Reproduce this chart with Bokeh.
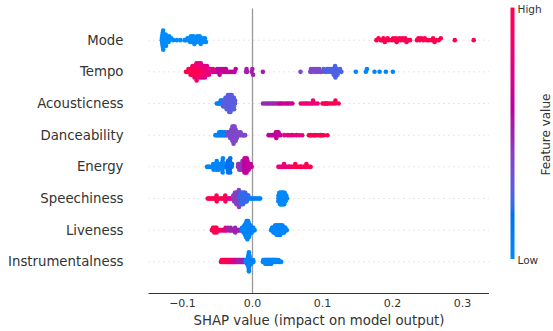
import math
import numpy as np
from bokeh.plotting import figure
from bokeh.layouts import row
from bokeh.models import Range1d, FixedTicker, ColumnDataSource, Label
from bokeh.embed import file_html
from bokeh.resources import INLINE

FONT = "DejaVu Sans"

# ---------------- data ----------------
# rows from bottom to top
features = ["Instrumentalness", "Liveness", "Speechiness", "Energy",
            "Danceability", "Acousticness", "Tempo", "Mode"]

x_ticks = [-0.1, 0.0, 0.1, 0.2, 0.3]
x_tick_labels = ["\u22120.1", "0.0", "0.1", "0.2", "0.3"]

# each entry: (normalised feature value -> colour, list of SHAP values)
mode_groups = [
    (0.0, [-0.1295, -0.1293, -0.1291, -0.1289, -0.1287, -0.1285, -0.1283, -0.1281, -0.1279, -0.1277, -0.1275,
           -0.1270, -0.1265, -0.1260, -0.1255, -0.1250, -0.1240, -0.1235,
           -0.1225, -0.1210, -0.1200, -0.1190,
           -0.1180, -0.1160, -0.1130, -0.1080, -0.1030,
           -0.0970, -0.0950, -0.0930, -0.0915, -0.0900, -0.0890, -0.0880, -0.0870, -0.0860, -0.0855,
           -0.0845, -0.0830, -0.0820, -0.0810, -0.0800, -0.0790, -0.0780, -0.0770, -0.0765,
           -0.0755, -0.0740, -0.0730, -0.0710, -0.0700, -0.0690, -0.0680, -0.0665]),
    (1.0, [0.177, 0.180, 0.183, 0.185, 0.187, 0.189, 0.191, 0.193, 0.195,
           0.199, 0.201, 0.203, 0.205, 0.206, 0.208, 0.210, 0.212, 0.214, 0.216, 0.218, 0.220, 0.222, 0.225,
           0.235, 0.237, 0.239, 0.241, 0.244, 0.246, 0.249, 0.252, 0.256, 0.258, 0.260, 0.263, 0.266, 0.269,
           0.289, 0.316]),
]

tempo_groups = [
    (1.0, [-0.0950, -0.0925, -0.0915, -0.0895, -0.0890, -0.0885, -0.0866, -0.0863, -0.0860, -0.0836, -0.0834,
           -0.0832, -0.0806, -0.0804, -0.0803, -0.0802, -0.0777, -0.0775, -0.0774, -0.0747, -0.0745, -0.0717,
           -0.0687]),
    (0.88, [-0.0857, -0.0830, -0.0828, -0.0801, -0.0800, -0.0798, -0.0773, -0.0771, -0.0744, -0.0742, -0.0715,
            -0.0713, -0.0685, -0.0684, -0.0657, -0.0655, -0.0627]),
    (0.76, [-0.0770, -0.0740, -0.0739, -0.0712, -0.0710, -0.0682, -0.0680, -0.0653, -0.0651, -0.0625, -0.0622,
            -0.0597, -0.0594, -0.0567, -0.0564, -0.0537]),
    (0.63, [-0.0515, -0.0505, -0.0490, -0.0475, -0.0470, -0.0450, -0.0435, -0.0420, -0.0405, -0.0395, -0.0380,
            -0.0365, -0.0340, -0.0310, -0.0280, -0.0255, -0.0240]),
    (0.52, [-0.0092, -0.0085, -0.0078, -0.0012, -0.0002, 0.0008, 0.0148]),
    (0.38, [0.0686, 0.0825, 0.0835, 0.0850, 0.0865, 0.0880, 0.0895, 0.0910, 0.0925, 0.0940, 0.0955, 0.0970,
            0.0995]),
    (0.25, [0.1015, 0.1035, 0.1050, 0.1065, 0.1080, 0.1095, 0.1110, 0.1120, 0.1135, 0.1145, 0.1160, 0.1165,
            0.1170, 0.1175, 0.1180, 0.1185, 0.1196, 0.1205, 0.1215, 0.1230, 0.1250, 0.1270]),
    (0.04, [0.1476, 0.1620, 0.1635, 0.1743, 0.1815, 0.1905, 0.2005]),
]

acoustic_groups = [
    (0.06, [-0.0510, -0.0492, -0.0475, -0.0460, -0.0455, -0.0442, -0.0438, -0.0425, -0.0372, -0.0336, -0.0300]),
    (0.28, [-0.0423, -0.0420, -0.0408, -0.0406, -0.0404, -0.0390, -0.0389, -0.0388, -0.0386,
            -0.0373, -0.0371, -0.0370, -0.0369, -0.0355, -0.0354, -0.0353, -0.0352, -0.0351, -0.0350,
            -0.0338, -0.0337, -0.0335, -0.0334, -0.0333, -0.0332, -0.0321, -0.0320, -0.0319, -0.0318,
            -0.0317, -0.0316, -0.0315, -0.0303, -0.0302, -0.0301, -0.0299, -0.0298, -0.0286, -0.0285,
            -0.0284, -0.0283, -0.0282, -0.0268, -0.0267, -0.0266, -0.0265, -0.0264, -0.0250, -0.0248]),
    (0.48, [0.0150, 0.0180, 0.0210, 0.0235, 0.0260, 0.0290, 0.0310, 0.0340]),
    (0.66, [0.0370, 0.0395, 0.0420, 0.0450, 0.0485, 0.0510, 0.0540, 0.0570]),
    (0.84, [0.0690, 0.0720, 0.0750, 0.0775, 0.0800, 0.0835, 0.0860, 0.0865, 0.0895, 0.0930]),
    (1.0, [0.1000, 0.1025, 0.1045, 0.1060, 0.1065, 0.1090, 0.1120, 0.1150, 0.1180, 0.1185, 0.1230]),
]

dance_groups = [
    (0.06, [-0.0530, -0.0510, -0.0495, -0.0485, -0.0475, -0.0465, -0.0462, -0.0450, -0.0445, -0.0435, -0.0432,
            -0.0420, -0.0410, -0.0405, -0.0390, -0.0385, -0.0370]),
    (0.38, [-0.0360, -0.0355, -0.0340, -0.0338, -0.0325, -0.0322, -0.0320,
            -0.0308, -0.0306, -0.0304, -0.0302,
            -0.0292, -0.0291, -0.0290, -0.0289, -0.0288, -0.0287,
            -0.0276, -0.0275, -0.0274, -0.0273, -0.0272, -0.0271, -0.0270,
            -0.0260, -0.0259, -0.0258, -0.0257, -0.0256, -0.0255,
            -0.0244, -0.0243, -0.0242, -0.0241, -0.0240,
            -0.0228, -0.0226, -0.0224,
            -0.0210, -0.0205, -0.0195, -0.0180, -0.0170, -0.0155, -0.0140, -0.0125, -0.0115, -0.0105]),
    (0.62, [0.0230, 0.0250, 0.0270, 0.0290, 0.0310, 0.0320, 0.0330, 0.0335, 0.0340, 0.0350, 0.0355, 0.0360,
            0.0370, 0.0380, 0.0400]),
    (0.8, [0.0455, 0.0505, 0.0535, 0.0560, 0.0590, 0.0630, 0.0670, 0.0710]),
    (1.0, [0.0805, 0.0820, 0.0835, 0.0850, 0.0870, 0.0885, 0.0900, 0.0930, 0.0955, 0.0970, 0.0985, 0.1000,
           0.1020, 0.1070]),
]

energy_groups = [
    (0.05, [-0.0650, -0.0635, -0.0620, -0.0605, -0.0585,
            -0.0566, -0.0561, -0.0556,
            -0.0523, -0.0520, -0.0515, -0.0511,
            -0.0492, -0.0487, -0.0482,
            -0.0460, -0.0455,
            -0.0434, -0.0432, -0.0430, -0.0428, -0.0426, -0.0423,
            -0.0402, -0.0396, -0.0378, -0.0375]),
    (0.18, [-0.0360, -0.0357, -0.0354, -0.0351, -0.0348,
            -0.0331, -0.0328, -0.0325, -0.0322, -0.0319, -0.0318,
            -0.0298, -0.0292]),
    (0.45, [-0.0208, -0.0204, -0.0194, -0.0191, -0.0188, -0.0178, -0.0175, -0.0164, -0.0161, -0.0158,
            -0.0150, -0.0148, -0.0146, -0.0144, -0.0135, -0.0132, -0.0129]),
    (0.62, [-0.0122, -0.0120, -0.0118, -0.0116, -0.0114, -0.0112,
            -0.0107, -0.0104, -0.0102, -0.0100, -0.0098,
            -0.0093, -0.0091, -0.0089, -0.0087, -0.0085, -0.0083,
            -0.0078, -0.0075, -0.0072, -0.0070, -0.0063, -0.0059, -0.0055,
            -0.0047, -0.0041, -0.0031, -0.0026, -0.0012]),
    (0.82, [0.0370, 0.0390, 0.0410, 0.0430, 0.0445, 0.0450, 0.0470, 0.0490, 0.0510, 0.0525, 0.0530, 0.0550]),
    (1.0, [0.0570, 0.0590, 0.0605, 0.0610, 0.0630, 0.0650, 0.0670, 0.0685, 0.0690, 0.0710, 0.0730, 0.0750,
           0.0765, 0.0770, 0.0790, 0.0810, 0.0830]),
]

speech_groups = [
    (1.0, [-0.0640, -0.0625, -0.0610, -0.0590, -0.0575, -0.0560, -0.0545, -0.0525, -0.0517, -0.0514, -0.0511,
           -0.0490, -0.0470, -0.0450, -0.0435, -0.0415, -0.0394, -0.0390, -0.0387]),
    (0.75, [-0.0365, -0.0345, -0.0330, -0.0315, -0.0300]),
    (0.42, [-0.0279, -0.0275, -0.0268, -0.0266, -0.0263, -0.0257, -0.0255, -0.0253, -0.0251,
            -0.0245, -0.0243, -0.0242, -0.0240, -0.0235, -0.0233, -0.0231, -0.0230, -0.0228,
            -0.0223, -0.0221, -0.0219, -0.0217, -0.0212, -0.0210, -0.0209, -0.0207, -0.0205,
            -0.0201, -0.0200, -0.0199, -0.0198, -0.0197, -0.0195, -0.0193,
            -0.0189, -0.0187, -0.0186, -0.0184, -0.0182]),
    (0.22, [-0.0177, -0.0176, -0.0174, -0.0172, -0.0166, -0.0165, -0.0163, -0.0161, -0.0159,
            -0.0154, -0.0152, -0.0150, -0.0148, -0.0143, -0.0142, -0.0140, -0.0138, -0.0136,
            -0.0132, -0.0130, -0.0128, -0.0126, -0.0120, -0.0118, -0.0116, -0.0114,
            -0.0109, -0.0107, -0.0105, -0.0103, -0.0098, -0.0095, -0.0092, -0.0086, -0.0083, -0.0081,
            -0.0075, -0.0071, -0.0063, -0.0059]),
    (0.07, [-0.0045, -0.0025, -0.0010, 0.0010, 0.0030, 0.0050, 0.0075, 0.0095, 0.0110]),
    (0.02, [0.0370, 0.0371, 0.0369, 0.0381, 0.0382, 0.0380, 0.0383, 0.0393, 0.0392, 0.0394, 0.0391, 0.0395,
            0.0404, 0.0403, 0.0405, 0.0406, 0.0402, 0.0415, 0.0416, 0.0414, 0.0417, 0.0413,
            0.0427, 0.0426, 0.0428, 0.0425, 0.0429, 0.0438, 0.0437, 0.0439, 0.0436, 0.0440,
            0.0450, 0.0449, 0.0451, 0.0448, 0.0452, 0.0461, 0.0460, 0.0462, 0.0459,
            0.0472, 0.0473, 0.0471, 0.0484, 0.0483, 0.0495]),
]

live_groups = [
    (1.0, [-0.0580, -0.0572, -0.0565, -0.0558, -0.0551, -0.0548, -0.0545, -0.0538, -0.0530, -0.0522, -0.0518,
           -0.0515, -0.0512, -0.0505, -0.0495, -0.0485, -0.0475, -0.0460, -0.0448]),
    (0.78, [-0.0430, -0.0420, -0.0410, -0.0395, -0.0388, -0.0385, -0.0382, -0.0370, -0.0360]),
    (0.5, [-0.0350, -0.0340, -0.0330, -0.0318, -0.0315, -0.0312, -0.0300, -0.0290, -0.0280, -0.0270, -0.0260,
           -0.0252, -0.0249, -0.0246, -0.0235, -0.0225, -0.0215, -0.0205, -0.0195, -0.0185, -0.0175, -0.0165]),
    (0.04, [-0.0154, -0.0150, -0.0143, -0.0139, -0.0133, -0.0131, -0.0128,
            -0.0123, -0.0121, -0.0119, -0.0117, -0.0113, -0.0111, -0.0109, -0.0107, -0.0105,
            -0.0102, -0.0101, -0.0099, -0.0098, -0.0097, -0.0096, -0.0094,
            -0.0092, -0.0091, -0.0089, -0.0088, -0.0087, -0.0086, -0.0085, -0.0084,
            -0.0081, -0.0080, -0.0079, -0.0078, -0.0077, -0.0076, -0.0075, -0.0074, -0.0073,
            -0.0070, -0.0069, -0.0068, -0.0067, -0.0066, -0.0065, -0.0064, -0.0062,
            -0.0059, -0.0058, -0.0057, -0.0055, -0.0054, -0.0053, -0.0051,
            -0.0048, -0.0047, -0.0045, -0.0043, -0.0041, -0.0037, -0.0035, -0.0033, -0.0031,
            -0.0026, -0.0024, -0.0021, -0.0015, -0.0012, -0.0010, -0.0004, 0.0000, 0.0007, 0.0010,
            0.0019, 0.0030]),
    (0.03, [0.0266, 0.0274, 0.0278, 0.0285, 0.0288, 0.0295, 0.0297, 0.0300, 0.0305, 0.0308, 0.0311,
            0.0316, 0.0318, 0.0320, 0.0322, 0.0327, 0.0329, 0.0331, 0.0333,
            0.0336, 0.0338, 0.0340, 0.0342, 0.0344, 0.0347, 0.0349, 0.0351, 0.0353, 0.0355,
            0.0358, 0.0360, 0.0362, 0.0364, 0.0365, 0.0369, 0.0371, 0.0372, 0.0374, 0.0376,
            0.0380, 0.0382, 0.0383, 0.0385, 0.0386, 0.0390, 0.0392, 0.0394, 0.0396, 0.0398,
            0.0401, 0.0403, 0.0406, 0.0408, 0.0412, 0.0414, 0.0416, 0.0418,
            0.0423, 0.0425, 0.0427, 0.0429, 0.0434, 0.0437, 0.0439, 0.0445, 0.0447, 0.0450,
            0.0455, 0.0459, 0.0466, 0.0470, 0.0478, 0.0490]),
]

instr_groups = [
    (1.0, [-0.0450, -0.0445, -0.0440, -0.0435, -0.0430, -0.0425, -0.0420, -0.0415, -0.0410, -0.0405, -0.0400,
           -0.0395, -0.0390, -0.0385, -0.0380, -0.0375, -0.0370, -0.0365, -0.0360, -0.0355, -0.0350, -0.0345,
           -0.0340, -0.0335, -0.0330, -0.0325, -0.0320]),
    (0.75, [-0.0315, -0.0310, -0.0305, -0.0300, -0.0295, -0.0290, -0.0285, -0.0280, -0.0275, -0.0270, -0.0265,
            -0.0260, -0.0255, -0.0250, -0.0245, -0.0240, -0.0235, -0.0230, -0.0225, -0.0220, -0.0215, -0.0210]),
    (0.5, [-0.0205, -0.0200, -0.0195, -0.0190, -0.0185, -0.0180, -0.0175, -0.0170, -0.0165, -0.0160, -0.0155,
           -0.0150, -0.0145, -0.0140, -0.0135, -0.0130, -0.0125, -0.0120, -0.0115, -0.0110, -0.0105]),
    (0.04, [-0.0099, -0.0096, -0.0090, -0.0087, -0.0083, -0.0081, -0.0078, -0.0074, -0.0072, -0.0069,
            -0.0066, -0.0065, -0.0063, -0.0062, -0.0061, -0.0060,
            -0.0058, -0.0057, -0.0056, -0.0055, -0.0055, -0.0054, -0.0054, -0.0053, -0.0052, -0.0051, -0.0051,
            -0.0049, -0.0048, -0.0047, -0.0045, -0.0044, -0.0043, -0.0039, -0.0037, -0.0035,
            -0.0030, -0.0028, -0.0026, -0.0022, -0.0020, -0.0018, -0.0013, -0.0010, -0.0004, -0.0001,
            0.0004, 0.0008, 0.0014]),
    (0.03, [0.0148, 0.0154, 0.0159, 0.0163, 0.0168, 0.0171, 0.0175, 0.0178, 0.0182, 0.0186, 0.0189, 0.0193,
            0.0196, 0.0199, 0.0203, 0.0206, 0.0209, 0.0212, 0.0215, 0.0219, 0.0222, 0.0225, 0.0229, 0.0232,
            0.0235, 0.0238, 0.0242, 0.0245, 0.0248, 0.0252, 0.0255, 0.0258, 0.0262, 0.0265, 0.0268, 0.0272,
            0.0276, 0.0279, 0.0283, 0.0287, 0.0291, 0.0295, 0.0299, 0.0303, 0.0307, 0.0312, 0.0316, 0.0321,
            0.0325, 0.0330, 0.0335, 0.0340, 0.0346, 0.0352, 0.0358, 0.0364, 0.0371, 0.0378, 0.0386, 0.0394,
            0.0402, 0.0410]),
]

rows = [instr_groups, live_groups, speech_groups, energy_groups,
        dance_groups, acoustic_groups, tempo_groups, mode_groups]


# ---------------- SHAP "red_blue" colour map (LCH interpolation) ----------------
def lab_to_rgb(L, a, b):
    fy = (L + 16.0) / 116.0
    fx = fy + a / 500.0
    fz = fy - b / 200.0

    def finv(t):
        return t ** 3 if t ** 3 > 0.008856 else (t - 16.0 / 116.0) / 7.787

    X, Y, Z = 0.95047 * finv(fx), finv(fy), 1.08883 * finv(fz)
    r = 3.2406 * X - 1.5372 * Y - 0.4986 * Z
    g = -0.9689 * X + 1.8758 * Y + 0.0415 * Z
    bl = 0.0557 * X - 0.2040 * Y + 1.0570 * Z

    def gam(c):
        c = c * 12.92 if c <= 0.0031308 else 1.055 * c ** (1 / 2.4) - 0.055
        return int(round(min(max(c, 0.0), 1.0) * 255))

    return gam(r), gam(g), gam(bl)


def shap_rgb(t):
    bl_l, bl_c, bl_h = 54.0, 70.0, 4.6588
    rd_l, rd_c, rd_h = 54.0, 90.0, 0.35470565 + 2 * math.pi
    l_mid = 40.0
    if t <= 0.5:
        L = bl_l + (l_mid - bl_l) * (t / 0.5)
    else:
        L = l_mid + (rd_l - l_mid) * ((t - 0.5) / 0.5)
    C = bl_c + (rd_c - bl_c) * t
    H = bl_h + (rd_h - bl_h) * t
    return lab_to_rgb(L, C * math.cos(H), C * math.sin(H))


def shap_hex(t):
    return "#%02x%02x%02x" % shap_rgb(t)


# ---------------- beeswarm layout (as in shap) ----------------
def swarm_offsets(vals, row_height=0.4, nbins=100):
    vals = np.asarray(vals, dtype=float)
    quant = np.round(nbins * (vals - vals.min()) / (vals.max() - vals.min() + 1e-8))
    inds = np.argsort(quant, kind="stable")
    ys = np.zeros(len(vals))
    layer, last_bin = 0, -1
    for ind in inds:
        if quant[ind] != last_bin:
            layer = 0
        ys[ind] = math.ceil(layer / 2) * ((layer % 2) * 2 - 1)
        layer += 1
        last_bin = quant[ind]
    ys *= 0.9 * (row_height / np.max(ys + 1))
    return ys


xs, ys, cols = [], [], []
for r, groups in enumerate(rows):
    vals = np.concatenate([np.asarray(g[1], dtype=float) for g in groups])
    fvals = np.concatenate([np.full(len(g[1]), g[0]) for g in groups])
    off = swarm_offsets(vals)
    xs.extend(vals.tolist())
    ys.extend((r + off).tolist())
    cols.extend(shap_hex(f) for f in fvals)

source = ColumnDataSource(dict(x=xs, y=ys, c=cols))

# ---------------- main figure ----------------
X0, X1 = -0.148571, 0.338571      # frame spans 148..489 px
Y0, Y1 = -1.0, 8.2526              # frame spans 0..293 px
n = len(features)

p = figure(width=489, height=331, x_range=Range1d(X0, X1), y_range=Range1d(Y0, Y1),
           output_backend="svg", toolbar_location=None,
           min_border_left=148, min_border_right=0, min_border_top=0, min_border_bottom=38)
p.outline_line_color = None
p.grid.visible = False
p.background_fill_color = "white"
p.border_fill_color = "white"

p.segment(x0=[X0] * n, y0=list(range(n)), x1=[X1] * n, y1=list(range(n)),
          line_color="#cccccc", line_width=1, line_dash="1 4")
p.segment(x0=[0], y0=[-1], x1=[0], y1=[n], line_color="#999999", line_width=1.3)

p.scatter("x", "y", source=source, size=4.6, fill_color="c", line_color=None)

xa = p.xaxis[0]
xa.ticker = FixedTicker(ticks=x_ticks)
xa.major_label_overrides = {t: s for t, s in zip(x_ticks, x_tick_labels)}
xa.axis_line_color = "#333333"
xa.axis_line_width = 1
xa.major_tick_line_color = None
xa.minor_tick_line_color = None
xa.major_tick_out = 0
xa.major_tick_in = 0
xa.major_label_standoff = 5
xa.major_label_text_font = FONT
xa.major_label_text_font_size = "11px"
xa.major_label_text_color = "#333333"
xa.axis_label = "SHAP value (impact on model output)"
xa.axis_label_text_font = FONT
xa.axis_label_text_font_size = "13.3px"
xa.axis_label_text_font_style = "normal"
xa.axis_label_text_color = "#333333"
xa.axis_label_standoff = 3

ya = p.yaxis[0]
ya.ticker = FixedTicker(ticks=list(range(n)))
ya.major_label_overrides = {i: name for i, name in enumerate(features)}
ya.axis_line_color = None
ya.major_tick_line_color = None
ya.minor_tick_line_color = None
ya.major_tick_out = 0
ya.major_tick_in = 0
ya.major_label_standoff = 25
ya.major_label_text_font = FONT
ya.major_label_text_font_size = "13.3px"
ya.major_label_text_color = "#333333"

# ---------------- colour bar panel ----------------
cb_labels = ["Low", "High"]
cb_title = "Feature value"

PX = 31.667  # pixels per row unit (same vertical scale as the main plot)
cb = figure(width=64, height=331, x_range=Range1d(0, 64), y_range=Range1d(Y0 - 38 / PX, Y1),
            output_backend="svg", toolbar_location=None,
            x_axis_location=None, y_axis_location=None, min_border=0)
cb.outline_line_color = None
cb.grid.visible = False
cb.background_fill_color = "white"
cb.border_fill_color = "white"

NB = 256
img = np.zeros((NB, 1), dtype=np.uint32)
view = img.view(dtype=np.uint8).reshape((NB, 1, 4))
for i in range(NB):
    rr, gg, bb = shap_rgb(i / (NB - 1))
    view[i, 0, 0] = rr
    view[i, 0, 1] = gg
    view[i, 0, 2] = bb
    view[i, 0, 3] = 255
cb.image_rgba(image=[img], x=21, y=-0.97, dw=4, dh=n + 0.97)

cb.add_layout(Label(x=28, y=-1.0, text=cb_labels[0], text_baseline="middle", text_align="left",
                    text_font=FONT, text_font_size="10.5px", text_color="#333333"))
cb.add_layout(Label(x=28, y=7.96, text=cb_labels[1], text_baseline="middle", text_align="left",
                    text_font=FONT, text_font_size="10.5px", text_color="#333333"))
cb.add_layout(Label(x=56.5, y=3.47, text=cb_title, angle=math.pi / 2,
                    text_baseline="middle", text_align="center",
                    text_font=FONT, text_font_size="12px", text_color="#333333"))

layout = row(p, cb)
open("out.html", "w").write(file_html(layout, INLINE))
